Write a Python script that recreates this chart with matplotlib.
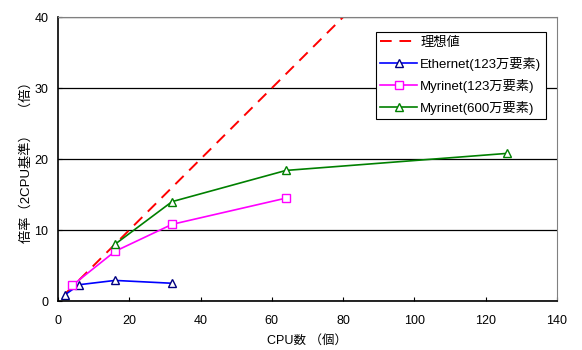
import matplotlib
matplotlib.use("Agg")
import matplotlib.pyplot as plt

plt.rcParams['font.family'] = ['Liberation Sans', 'Noto Sans CJK JP']

# データ（CPU数, 倍率）
cpu_ideal = [2, 4, 8, 16, 32, 64, 128]
ratio_ideal = [1, 2, 4, 8, 16, 32, 64]

cpu_eth = [2, 6, 16, 32]
ratio_eth = [0.9, 2.3, 2.9, 2.5]

cpu_myr123 = [4, 16, 32, 64]
ratio_myr123 = [2.2, 7.0, 10.8, 14.5]

cpu_myr600 = [16, 32, 64, 126]
ratio_myr600 = [8.0, 14.0, 18.4, 20.8]

fig = plt.figure(figsize=(5.82, 3.5), dpi=100)
ax = fig.add_axes([0.0997, 0.14, 0.857, 0.811])

ax.plot(cpu_ideal, ratio_ideal, color="#ff0000", linestyle=(0, (6, 4)),
        linewidth=1.4, label="理想値")
ax.plot(cpu_eth, ratio_eth, color="#0000ff", linewidth=1.2, marker="^",
        markersize=6, markerfacecolor="white", markeredgecolor="#000080",
        label="Ethernet(123万要素)")
ax.plot(cpu_myr123, ratio_myr123, color="#ff00ff", linewidth=1.2, marker="s",
        markersize=6, markerfacecolor="white", markeredgecolor="#ff00ff",
        label="Myrinet(123万要素)")
ax.plot(cpu_myr600, ratio_myr600, color="#008000", linewidth=1.2, marker="^",
        markersize=6, markerfacecolor="white", markeredgecolor="#008000",
        label="Myrinet(600万要素)")

ax.set_xlim(0, 140)
ax.set_ylim(0, 40)
ax.set_xticks(range(0, 141, 20))
ax.set_yticks(range(0, 41, 10))
ax.yaxis.grid(True, color="black", linewidth=0.9)
ax.set_axisbelow(True)
ax.tick_params(direction="in", length=3, labelsize=9, colors="black")
ax.tick_params(axis="x", pad=10)
ax.tick_params(axis="y", pad=7)

for s in ["top", "right"]:
    ax.spines[s].set_color("#808080")
for s in ["left", "bottom"]:
    ax.spines[s].set_color("black")
    ax.spines[s].set_linewidth(1.2)

ax.set_xlabel("CPU数 （個）", fontsize=9, labelpad=6)
ax.set_ylabel("倍率（2CPU基準）　（倍）", fontsize=9.5, labelpad=1)

leg = ax.legend(loc="upper right", bbox_to_anchor=(0.978, 0.947), fontsize=9.5,
                fancybox=False, framealpha=1, edgecolor="black",
                handlelength=2.8, borderpad=0.35, labelspacing=0.6,
                handletextpad=0.2, borderaxespad=0)
leg.get_frame().set_linewidth(0.8)

plt.savefig("out.png", dpi=100)
